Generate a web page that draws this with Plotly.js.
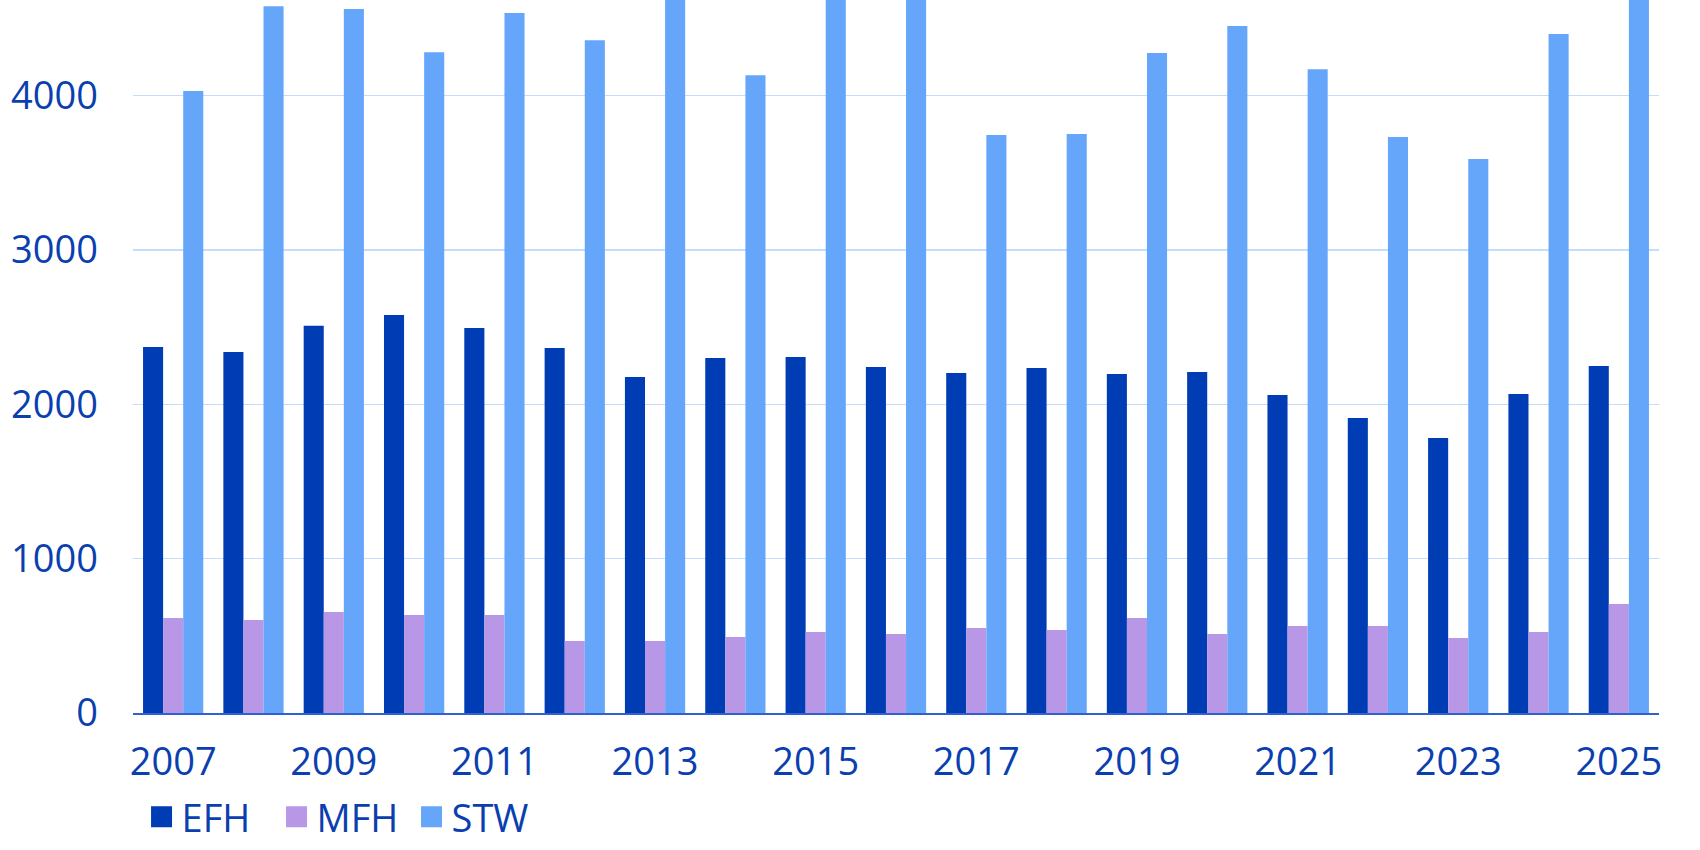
<!DOCTYPE html>
<html>
<head>
<meta charset="utf-8">
<script src="https://cdn.plot.ly/plotly-3.0.1.min.js"></script>
<style>
html,body{margin:0;padding:0;background:#fff;}
#chart{width:1700px;height:850px;}
</style>
</head>
<body>
<div id="chart"></div>
<script>
const years = [2007,2008,2009,2010,2011,2012,2013,2014,2015,2016,2017,2018,2019,2020,2021,2022,2023,2024,2025];
const efh = [2371,2339,2509,2579,2494,2365,2177,2300,2306,2242,2203,2235,2196,2209,2060,1911,1782,2067,2248];
const mfh = [615,603,654,635,635,466,466,492,525,512,551,538,615,512,564,564,486,525,706];
const stw = [4030,4580,4561,4282,4535,4360,4750,4133,4850,4800,3745,3751,4276,4451,4172,3732,3589,4399,4700];
const seriesNames = ['EFH','MFH','STW'];
const yTicks = [0,1000,2000,3000,4000];

const textColor = '#0B3FB0';
const colors = ['#003CB3','#B897E6','#66A6FA'];

const traces = [efh, mfh, stw].map((vals, i) => ({
  type: 'bar',
  name: seriesNames[i],
  x: years,
  y: vals,
  marker: {color: colors[i], line: {width: 0}},
  hoverinfo: 'x+y+name'
}));

const layout = {
  width: 1700,
  height: 850,
  margin: {l: 133, r: 41, t: 0, b: 137},
  paper_bgcolor: '#ffffff',
  plot_bgcolor: '#ffffff',
  font: {family: '"Open Sans", "Noto Sans", sans-serif', size: 38, color: textColor},
  barmode: 'group',
  bargap: 0.25,
  bargroupgap: 0,
  showlegend: true,
  legend: {
    orientation: 'h',
    x: 0.0056,
    xanchor: 'left',
    y: -0.146,
    yanchor: 'middle',
    font: {size: 38, color: textColor},
    bgcolor: 'rgba(0,0,0,0)',
    borderwidth: 0,
    traceorder: 'normal',
    entrywidthmode: 'pixels',
    entrywidth: 90
  },
  xaxis: {
    range: [2006.5, 2025.5],
    tick0: 2007,
    dtick: 2,
    tickmode: 'linear',
    showgrid: false,
    zeroline: false,
    showline: true,
    linecolor: '#2F62D0',
    linewidth: 1.5,
    ticks: '',
    ticklabelstandoff: 15,
    tickfont: {size: 38, color: textColor},
    fixedrange: true
  },
  yaxis: {
    range: [0, 4620],
    tickvals: yTicks,
    ticktext: yTicks.map(String),
    showgrid: true,
    gridcolor: '#C3DDFA',
    gridwidth: 1.3,
    zeroline: false,
    showline: false,
    ticks: '',
    ticklabelstandoff: 34,
    tickfont: {size: 38, color: textColor},
    fixedrange: true
  }
};

Plotly.newPlot('chart', traces, layout, {displayModeBar: false, staticPlot: true}).then(gd => {
  gd.querySelectorAll('.legendpoints path').forEach(p => {
    const t = p.getAttribute('transform') || '';
    p.setAttribute('transform', t + ' scale(1.75)');
  });
});
</script>
</body>
</html>
